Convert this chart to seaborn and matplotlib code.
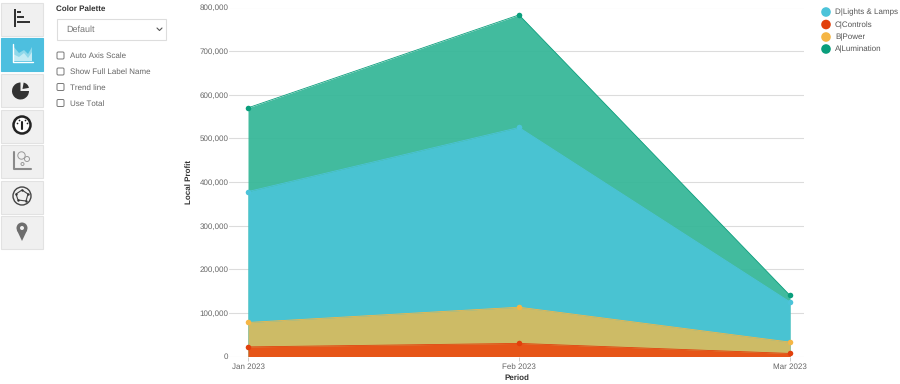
import pandas as pd
import numpy as np
import matplotlib
matplotlib.use("Agg")
import matplotlib.pyplot as plt
import matplotlib.patches as mpatches
import seaborn as sns

periods = ["Jan 2023", "Feb 2023", "Mar 2023"]
lumination = [570000, 783000, 140000]
lights = [378000, 525000, 125000]
power = [78000, 113000, 33000]
controls = [22000, 30000, 7000]

series_names = ["A|Lumination", "D|Lights & Lamps", "B|Power", "C|Controls"]
legend_order = ["D|Lights & Lamps", "C|Controls", "B|Power", "A|Lumination"]
y_ticks = [0, 100000, 200000, 300000, 400000, 500000, 600000, 700000, 800000]
option_labels = ["Auto Axis Scale", "Show Full Label Name", "Trend line", "Use Total"]

colors = {"A|Lumination": "#0a9e7c", "D|Lights & Lamps": "#4cc3d9",
          "B|Power": "#f5b645", "C|Controls": "#e2400c"}
fills = {"A|Lumination": "#38b899", "D|Lights & Lamps": "#49c3d2",
         "B|Power": "#cdbb66", "C|Controls": "#e65518"}

df = pd.DataFrame({"Period": periods, "A|Lumination": lumination, "D|Lights & Lamps": lights,
                   "B|Power": power, "C|Controls": controls})
long_df = df.melt(id_vars="Period", var_name="series", value_name="Local Profit")

sns.set_theme(style="white")
plt.rcParams['font.family'] = ['Liberation Sans', 'DejaVu Sans']
plt.rcParams['text.hinting'] = 'no_hinting'
plt.rcParams['text.hinting_factor'] = 1

W, H = 900, 384
fig = plt.figure(figsize=(W / 100, H / 100), dpi=100, facecolor="white")

# main chart, placed in pixels
ax = fig.add_axes([229 / W, 1 - 356.5 / H, (804 - 229) / W, (356.5 - 7.5) / H])
sns.lineplot(data=long_df, x="Period", y="Local Profit", hue="series", hue_order=series_names,
             palette=colors, marker="o", markersize=4, markeredgewidth=0, linewidth=0.6,
             sort=False, legend=False, ax=ax, zorder=4, clip_on=False)
xs = np.arange(len(periods))
for name in series_names:
    alpha = 0.95 if name == "A|Lumination" else 1
    ax.fill_between(xs, 0, df[name].values, color=fills[name], alpha=alpha, linewidth=0, zorder=3)

ax.set_xlim(-19 / 271, 2 + 14 / 271)
ax.set_ylim(0, 800000)
ax.set_yticks(y_ticks)
ax.set_yticklabels([f"{v:,}" for v in y_ticks])
ax.grid(axis="y", color="#dcdcdc", linewidth=0.8)
ax.set_axisbelow(True)
for s in ax.spines.values():
    s.set_visible(False)
ax.tick_params(axis="y", length=0, pad=0.5, labelsize=6.1, labelcolor="#666666")
ax.tick_params(axis="x", length=3, width=0.7, color="#cccccc", pad=2, labelsize=6.1, labelcolor="#666666", bottom=True)
ax.set_xlabel("Period", fontsize=6.1, weight="bold", color="#333333", labelpad=2)
ax.set_ylabel("")

# overlay for the control panel and legend, in pixel coordinates
ui = fig.add_axes([0, 0, 1, 1], zorder=5)
ui.set_xlim(0, W)
ui.set_ylim(H, 0)
ui.axis("off")
ui.patch.set_alpha(0)

ui.text(189, 182, "Local Profit", rotation=90, ha="center", va="center", fontsize=6.1, weight="bold", color="#333333")

# legend
for name, ypos in zip(legend_order, [12, 24.5, 37, 49]):
    ui.add_patch(mpatches.Circle((826, ypos), 4.8, color=colors[name], linewidth=0))
    ui.text(835, ypos + 0.5, name, va="center", fontsize=6.1, color="#555555")

# icon buttons
btn_tops = [3, 38, 74, 110, 145, 181, 216]
dark = "#333333"
for i, top in enumerate(btn_tops):
    selected = i == 1
    ui.add_patch(mpatches.Rectangle((1, top), 42, 33, facecolor="#4dbfdf" if selected else "#f0f0f0",
                                    edgecolor="#4dbfdf" if selected else "#e2e2e2", linewidth=0.8))
# bars
ui.add_patch(mpatches.Rectangle((14, 9), 1.8, 18, color=dark, lw=0))
for y0, w in zip([11, 15.5, 21], [4, 7.5, 13]):
    ui.add_patch(mpatches.Rectangle((16.5, y0), w, 2.4, color=dark, lw=0))
# area
ui.add_patch(mpatches.Polygon([(13, 61), (13, 46), (19, 53), (24, 50), (28, 54), (32, 47), (32, 61)],
                              facecolor="#8fd8ea", edgecolor="none"))
ui.add_patch(mpatches.Polygon([(13, 61), (13, 54), (19, 57), (24, 53), (28, 58), (32, 52), (32, 61)],
                              facecolor="#c4ebf4", edgecolor="none"))
ui.plot([12.5, 12.5, 33], [44, 62, 62], color="white", lw=1)
# pie, y runs downward here so angles turn clockwise
ui.add_patch(mpatches.Wedge((20.5, 91), 8.5, 0, 270, color=dark, lw=0))
ui.add_patch(mpatches.Wedge((22.5, 89), 6.5, -80, -10, color=dark, lw=0))
# gauge
ui.add_patch(mpatches.Circle((22, 125), 8.5, facecolor="white", edgecolor="#222222", lw=1.8))
ui.plot([22, 22], [122, 129], color="#222222", lw=1.5)
ui.scatter([17, 19, 25, 27], [123, 120, 120, 123], s=1.5, color="#222222", lw=0)
# bubbles
ui.plot([13.5, 13.5, 31], [152, 169, 169], color="#8a8a8a", lw=1.5)
ui.add_patch(mpatches.Circle((21.5, 155.5), 3.7, facecolor="none", edgecolor="#999999", lw=0.7))
ui.add_patch(mpatches.Circle((27, 159), 2.5, facecolor="none", edgecolor="#999999", lw=0.7))
ui.add_patch(mpatches.Circle((22.5, 164), 1.5, facecolor="none", edgecolor="#999999", lw=0.7))
# radar
ui.add_patch(mpatches.Circle((22, 196), 9, facecolor="none", edgecolor="#444444", lw=1))
ui.add_patch(mpatches.Polygon([(22, 190), (28, 194), (26, 201), (18, 200), (16, 194)],
                              facecolor="none", edgecolor="#444444", lw=0.8))
ui.scatter([22, 28, 26, 18, 16], [190, 194, 201, 200, 194], s=3, color="#333333", lw=0)
# pin
ui.add_patch(mpatches.Circle((22, 228), 5.5, color="#6e6e6e", lw=0))
ui.add_patch(mpatches.Polygon([(16.8, 230), (27.2, 230), (22, 241)], color="#6e6e6e", lw=0))
ui.add_patch(mpatches.Circle((22, 228), 2, color="#f0f0f0", lw=0))

# palette panel
ui.text(56, 8.5, "Color Palette", va="center", fontsize=6.1, weight="bold", color="#333333")
ui.add_patch(mpatches.Rectangle((56.5, 18.5), 109, 21, facecolor="white", edgecolor="#dddddd", linewidth=0.8))
ui.text(66.5, 29.5, "Default", va="center", fontsize=6.6, color="#777777")
ui.plot([157, 159.5, 162], [28, 30.5, 28], color="#555555", lw=0.8)
for label, ypos in zip(option_labels, [55.5, 71.5, 87, 103]):
    ui.add_patch(mpatches.FancyBboxPatch((57, ypos - 3.5), 7, 7, boxstyle="round,pad=0,rounding_size=1.2",
                                         facecolor="white", edgecolor="#777777", linewidth=0.7))
    ui.text(70, ypos + 0.5, label, va="center", fontsize=6.1, color="#666666")

fig.savefig("out.png", dpi=100)
